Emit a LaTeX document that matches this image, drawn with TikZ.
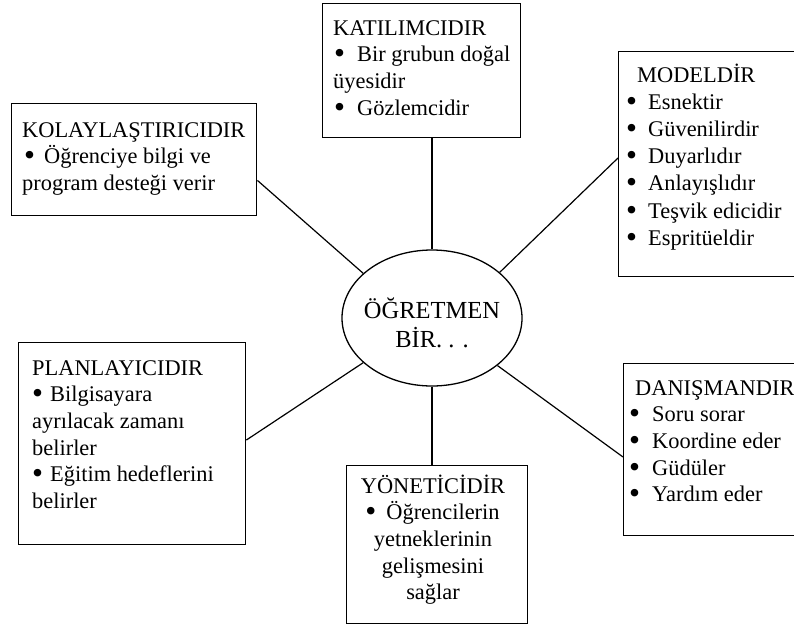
\documentclass[tikz,border=0pt]{standalone}
\usepackage{fontspec}
\setmainfont{Liberation Serif}
\usetikzlibrary{shapes.geometric,calc}
\begin{document}
\begin{tikzpicture}[x=1pt,y=-1pt,
  box/.style={draw, line width=1.4pt, rectangle, inner sep=0, anchor=north west},
  txt/.style={inner sep=0, anchor=base west, align=left, font=\fontsize{22.4}{26.7}\selectfont},
  conn/.style={line width=1.2pt}]
\useasboundingbox (0,0) rectangle (794,627);
\fill[white] (0,0) rectangle (794,627);
\newcommand\bul[1]{\makebox[#1][l]{\hspace*{-1pt}\raisebox{-2pt}{\scalebox{1.4}{•}}}}
% boxes
\node[box, minimum width=245pt, minimum height=112pt] (kol) at (11,103) {};
\node[box, minimum width=198pt, minimum height=134pt] (kat) at (322,3) {};
\node[box, minimum width=200pt, minimum height=225pt] (mod) at (618,51) {};
\node[box, minimum width=200pt, minimum height=172pt] (dan) at (623,363) {};
\node[box, minimum width=227pt, minimum height=202pt] (plan) at (18,342) {};
\node[box, minimum width=181pt, minimum height=158pt] (yon) at (346,465) {};
\node[draw, ellipse, line width=1.3pt, minimum width=180pt, minimum height=136pt, inner sep=0] (ell) at (432,318) {};
% texts (base anchor = baseline of the last line)
\node[txt] (kolt) at (22,190.4) {KOLAYLAŞTIRICIDIR\\\hspace*{3pt}\bul{19pt}Öğrenciye bilgi ve\\program desteği verir};
\node[txt] (katt) at (333,115.1) {KATILIMCIDIR\\\hspace*{2pt}\bul{22pt}Bir grubun doğal\\üyesidir\\\hspace*{2pt}\bul{22pt}Gözlemcidir};
\node[txt, font=\fontsize{22.4}{27.2}\selectfont] (modt) at (627,245.2) {\hspace*{10pt}MODELDİR\\\bul{21pt}Esnektir\\\bul{21pt}Güvenilirdir\\\bul{21pt}Duyarlıdır\\\bul{21pt}Anlayışlıdır\\\bul{21pt}Teşvik edicidir\\\bul{21pt}Espritüeldir};
\node[txt] (dant) at (630,501.8) {\hspace*{5pt}DANIŞMANDIR\\\bul{22pt}Soru sorar\\\bul{22pt}Koordine eder\\\bul{22pt}Güdüler\\\bul{22pt}Yardım eder};
\node[txt] (plant) at (32,508.5) {PLANLAYICIDIR\\\hspace*{1pt}\bul{17pt}Bilgisayara\\ayrılacak zamanı\\belirler\\\hspace*{1pt}\bul{17pt}Eğitim hedeflerini\\belirler};
\node[txt, anchor=base, align=center] (yont) at (433,599.8) {YÖNETİCİDİR\\\bul{20pt}Öğrencilerin\\yetneklerinin\\gelişmesini\\sağlar};
\node[txt, anchor=base, align=center, font=\fontsize{24.5}{29}\selectfont] (ellt) at (432,347) {ÖĞRETMEN\\BİR. . .};
% connectors
\draw[conn] (ell.147.3) -- ($(kol.south east)+(0,-36)$);
\draw[conn] (ell.north) -- (ell.north |- kat.south);
\draw[conn] (ell.34.3) -- ($(mod.north west)+(0,107)$);
\draw[conn] (ell.324.5) -- ($(dan.north west)+(0,94)$);
\draw[conn] (ell.south) -- (ell.south |- yon.north);
\draw[conn] (ell.213.3) -- ($(plan.north east)+(0,98)$);
\end{tikzpicture}
\end{document}
